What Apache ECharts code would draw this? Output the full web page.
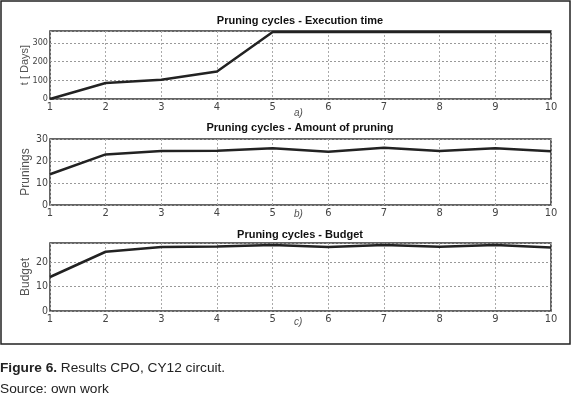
<!DOCTYPE html>
<html><head><meta charset="utf-8">
<script src="https://cdn.jsdelivr.net/npm/echarts@6/dist/echarts.min.js"></script>
<style>html,body{margin:0;padding:0;background:#fff}#c{width:574px;height:397px}</style>
</head><body><div id="c"></div>
<script>
const cycles = [1,2,3,4,5,6,7,8,9,10];
const execTime = [0,86,103,148,360,360,360,360,360,360];
const prunings = [14,23,24.5,24.7,25.8,24.2,26,24.5,25.8,24.4];
const budget = [14,24.4,26.4,26.6,27.2,26.4,27.2,26.5,27.2,26.1];
const titles = ['Pruning cycles - Execution time','Pruning cycles - Amount of pruning','Pruning cycles - Budget'];
const subLabels = ['a)','b)','c)'];
const yNames = ['t [ Days]','Prunings','Budget'];

const chart = echarts.init(document.getElementById('c'), null, {renderer:'canvas'});
const narrow = "'Liberation Sans Narrow','DejaVu Sans Condensed',sans-serif";
const grids = [
  {left:50, right:23, top:31, height:68},
  {left:50, right:23, top:139, height:66},
  {left:50, right:23, top:243, height:68}
];
const yCfg = [
  {min:0,max:365,interval:100},
  {min:0,max:30,interval:10},
  {min:0,max:28,interval:10}
];
const seriesData = [execTime, prunings, budget];
const titleY = [15, 122, 229];
const subY = [108, 209, 317];
const yLabelSize = [9, 10.5, 10.5];
const yNameSize = [11, 12, 12];
const yNameGap = [20, 18, 18];

chart.setOption({
  animation:false,
  backgroundColor:'#fff',
  title: titles.map((t,i)=>({text:t, left:300, top:titleY[i], textAlign:'center', padding:0,
    textStyle:{fontFamily:'Liberation Sans, sans-serif', fontWeight:'bold', fontSize:11, color:'#111'}})),
  grid: grids.map(g=>Object.assign({show:true, borderColor:'#333', borderWidth:1.5, backgroundColor:'transparent', containLabel:false, outerBoundsMode:'none'}, g)),
  xAxis: grids.map((g,i)=>({type:'value', gridIndex:i, min:1, max:10, interval:1,
    axisLine:{show:false}, axisTick:{show:false},
    axisLabel:{color:'#444', fontSize:11, fontFamily:narrow, margin:3},
    splitLine:{show:true, lineStyle:{color:'#aaa', type:[2,2], width:1}}})),
  yAxis: yCfg.map((c,i)=>({type:'value', gridIndex:i, min:c.min, max:c.max, interval:c.interval,
    name:yNames[i], nameLocation:'middle', nameGap:yNameGap[i], nameRotate:90, nameMoveOverlap:false,
    nameTextStyle:{color:'#555', fontSize:yNameSize[i], fontFamily:'Liberation Sans, sans-serif'},
    axisLine:{show:false}, axisTick:{show:false},
    axisLabel:{color:'#444', fontSize:yLabelSize[i], fontFamily:narrow, margin:2, showMaxLabel: i===1},
    splitLine:{show:true, lineStyle:{color:'#999', type:[2,2], width:1}}})),
  series: seriesData.map((d,i)=>({type:'line', xAxisIndex:i, yAxisIndex:i,
    data:cycles.map((x,k)=>[x,d[k]]), showSymbol:false, symbol:'none',
    lineStyle:{color:'#222', width:2.5}, z:5})),
  graphic: [
    {type:'rect', shape:{x:1, y:1, width:569, height:343}, style:{fill:null, stroke:'#222', lineWidth:1.5}, z:10},
    ...subLabels.map((s,i)=>({type:'text', left:294, top:subY[i], style:{text:s, fill:'#555', font:'italic 10px Liberation Sans, sans-serif'}})),
    {type:'text', left:0, top:361, style:{rich:{b:{fontWeight:'bold', fontSize:13.7, fontFamily:'Liberation Sans, Arial, sans-serif', fill:'#222'}, n:{fontSize:13.7, fontFamily:'Liberation Sans, Arial, sans-serif', fill:'#222'}}, text:'{b|Figure 6.}{n| Results CPO, CY12 circuit.}'}},
    {type:'text', left:0, top:382, style:{text:'Source: own work', font:'13.7px Liberation Sans, Arial, sans-serif', fill:'#222'}}
  ]
});
</script></body></html>
